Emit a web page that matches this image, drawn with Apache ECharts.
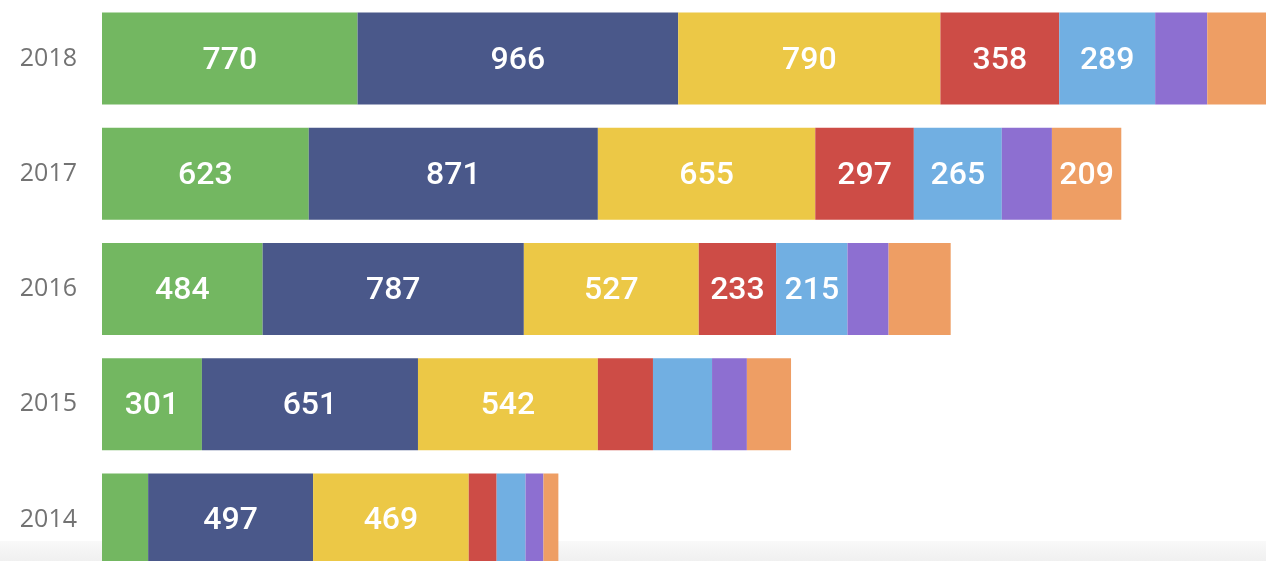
<!DOCTYPE html>
<html>
<head>
<meta charset="utf-8">
<style>
html, body { margin: 0; padding: 0; background: #fff; overflow: hidden; }
body { width: 1266px; height: 561px; }
#main { width: 1266px; height: 578px; }
</style>
<script src="https://cdn.jsdelivr.net/npm/echarts@6/dist/echarts.min.js"></script>
</head>
<body>
<div id="main"></div>
<script>
// years, bottom to top
var years = ['2014', '2015', '2016', '2017', '2018'];

var seriesNames = ['S1', 'S2', 'S3', 'S4', 'S5', 'S6', 'S7'];
var colors = ['#73B761', '#4A588A', '#ECC846', '#CD4C46', '#71AFE2', '#8D6FD1', '#EE9E64'];

var greenVals  = [139, 301, 484, 623, 770];
var navyVals   = [497, 651, 787, 871, 966];
var yellowVals = [469, 542, 527, 655, 790];
var redVals    = [84, 166, 233, 297, 358];
var skyVals    = [87, 178, 215, 265, 289];
var purpleVals = [54, 105, 124, 151, 157];
var orangeVals = [45, 133, 187, 209, 190];

var allVals = [greenVals, navyVals, yellowVals, redVals, skyVals, purpleVals, orangeVals];

var chart = echarts.init(document.getElementById('main'));

var series = [];
for (var i = 0; i < allVals.length; i++) {
    series.push({
        name: seriesNames[i],
        type: 'bar',
        stack: 'total',
        barWidth: 92,
        data: allVals[i],
        itemStyle: { color: colors[i] },
        label: {
            show: true,
            position: 'inside',
            color: '#fff',
            fontFamily: 'Roboto',
            fontWeight: 500,
            fontSize: 32,
            offset: [0, 2],
            formatter: function (p) {
                return p.value >= 200 ? p.value : '';
            }
        }
    });
}

var option = {
    animation: false,
    backgroundColor: '#fff',
    graphic: [{
        type: 'rect',
        z: 0,
        shape: { x: 0, y: 541, width: 1266, height: 37 },
        style: {
            fill: new echarts.graphic.LinearGradient(0, 0, 0, 1, [
                { offset: 0, color: '#f9f9f9' },
                { offset: 0.6, color: '#efefef' },
                { offset: 1, color: '#eaeaea' }
            ])
        },
        silent: true
    }],
    grid: {
        left: 102,
        right: 0,
        top: 1,
        bottom: 1
    },
    xAxis: {
        type: 'value',
        min: 0,
        max: 3507,
        show: false
    },
    yAxis: {
        type: 'category',
        data: years,
        axisLine: { show: false },
        axisTick: { show: false },
        axisLabel: {
            margin: 25,
            color: '#737373',
            fontFamily: 'Open Sans',
            fontSize: 25
        }
    },
    series: series
};

chart.setOption(option);
</script>
</body>
</html>
